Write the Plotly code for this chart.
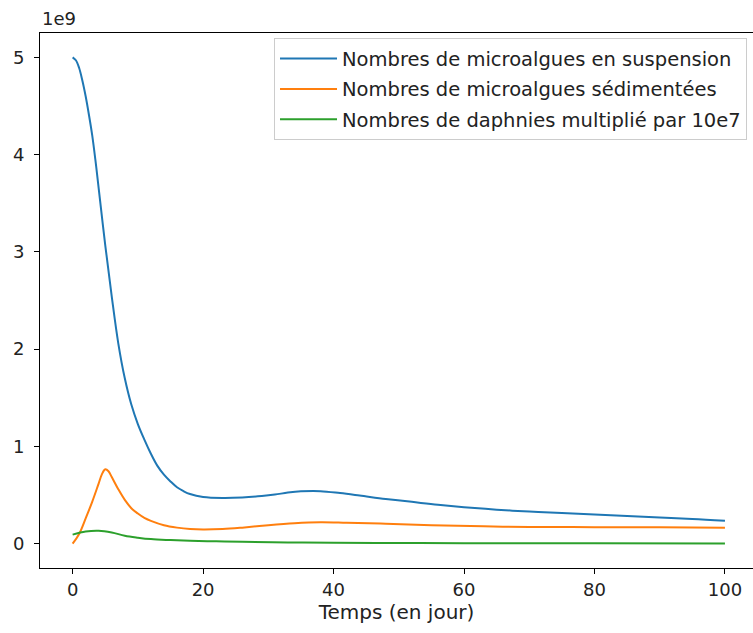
import plotly.graph_objects as go

# Time (days) and populations, sampled from the simulation output
t_susp = [0, 0.5, 1, 1.5, 2, 2.5, 3, 3.5, 4, 5, 6, 7, 8, 9, 10, 11, 12, 13, 14, 15, 16,
          17, 18, 20, 23, 26, 29, 31, 33, 35, 38, 41, 44, 48, 52, 56, 60, 65, 70, 75,
          80, 85, 90, 95, 100]
microalgues_suspension = [5.0e9, 4.97e9, 4.89e9, 4.76e9, 4.6e9, 4.41e9, 4.2e9, 3.94e9,
                          3.65e9, 3.07e9, 2.54e9, 2.06e9, 1.70e9, 1.43e9, 1.23e9, 1.07e9,
                          0.925e9, 0.80e9, 0.71e9, 0.64e9, 0.58e9, 0.54e9, 0.51e9, 0.48e9,
                          0.47e9, 0.475e9, 0.49e9, 0.505e9, 0.525e9, 0.538e9, 0.54e9,
                          0.52e9, 0.495e9, 0.46e9, 0.43e9, 0.40e9, 0.375e9, 0.35e9, 0.33e9,
                          0.315e9, 0.30e9, 0.285e9, 0.27e9, 0.255e9, 0.235e9]

t_sed = [0, 1, 2, 3, 4, 4.5, 5, 5.5, 6, 7, 8, 9, 10, 11, 12, 14, 16, 18, 20, 23, 26, 30,
         34, 38, 42, 48, 55, 63, 70, 80, 90, 100]
microalgues_sedimentees = [0.0, 0.10e9, 0.26e9, 0.43e9, 0.62e9, 0.715e9, 0.765e9, 0.745e9,
                           0.685e9, 0.56e9, 0.45e9, 0.365e9, 0.31e9, 0.265e9, 0.235e9,
                           0.19e9, 0.165e9, 0.15e9, 0.145e9, 0.15e9, 0.165e9, 0.19e9,
                           0.21e9, 0.22e9, 0.215e9, 0.205e9, 0.19e9, 0.178e9, 0.172e9,
                           0.17e9, 0.168e9, 0.165e9]

t_daph = [0, 2, 4, 6, 8, 10, 12, 15, 18, 22, 26, 33, 40, 50, 60, 80, 100]
daphnies_x10e7 = [0.093e9, 0.125e9, 0.133e9, 0.115e9, 0.082e9, 0.062e9, 0.047e9, 0.037e9,
                  0.030e9, 0.024e9, 0.019e9, 0.013e9, 0.010e9, 0.007e9, 0.005e9, 0.004e9,
                  0.003e9]

x_ticks = [0, 20, 40, 60, 80, 100]
y_ticks = [0, 1e9, 2e9, 3e9, 4e9, 5e9]
y_tick_labels = ["0", "1", "2", "3", "4", "5"]

FONT = "DejaVu Sans"
TXT = "#222222"

series = [
    (t_susp, microalgues_suspension, "Nombres de microalgues en suspension", "#1f77b4"),
    (t_sed, microalgues_sedimentees, "Nombres de microalgues sédimentées", "#ff7f0e"),
    (t_daph, daphnies_x10e7, "Nombres de daphnies multiplié par 10e7", "#2ca02c"),
]

fig = go.Figure()
for i, (tx, vals, name, color) in enumerate(series):
    fig.add_trace(go.Scatter(
        x=tx, y=vals, mode="lines", name=name, legendgroup=f"g{i}",
        line=dict(color=color, width=2, shape="spline", smoothing=1.0),
    ))

fig.update_layout(
    width=753, height=633,
    margin=dict(l=40, r=0, t=33, b=65),
    plot_bgcolor="white", paper_bgcolor="white",
    font=dict(family=FONT, size=18, color=TXT),
    showlegend=True,
    legend=dict(
        x=0.9916, y=0.99, xanchor="right", yanchor="top",
        bgcolor="rgba(255,255,255,0.8)", bordercolor="#cccccc", borderwidth=1,
        font=dict(family=FONT, size=19.5, color=TXT),
        traceorder="grouped", tracegroupgap=2, itemwidth=57,
    ),
    xaxis=dict(
        range=[-5, 104.3], tickvals=x_ticks, showgrid=False, zeroline=False,
        showline=True, linecolor="black", linewidth=1, mirror=True,
        ticks="outside", ticklen=5, tickcolor="black",
        tickfont=dict(size=18),
        title=dict(text="Temps (en jour)", font=dict(size=20), standoff=4),
    ),
    yaxis=dict(
        range=[-0.25e9, 5.25e9], tickvals=y_ticks, ticktext=y_tick_labels,
        showgrid=False, zeroline=False,
        showline=True, linecolor="black", linewidth=1,
        ticks="outside", ticklen=5, tickcolor="black",
        tickfont=dict(size=18), ticklabelstandoff=6,
    ),
    annotations=[dict(
        text="1e9", xref="paper", yref="paper", x=0, y=1,
        xanchor="left", yanchor="bottom", yshift=2, showarrow=False,
        font=dict(family=FONT, size=18, color=TXT),
    )],
)

fig.write_html("out.html")
